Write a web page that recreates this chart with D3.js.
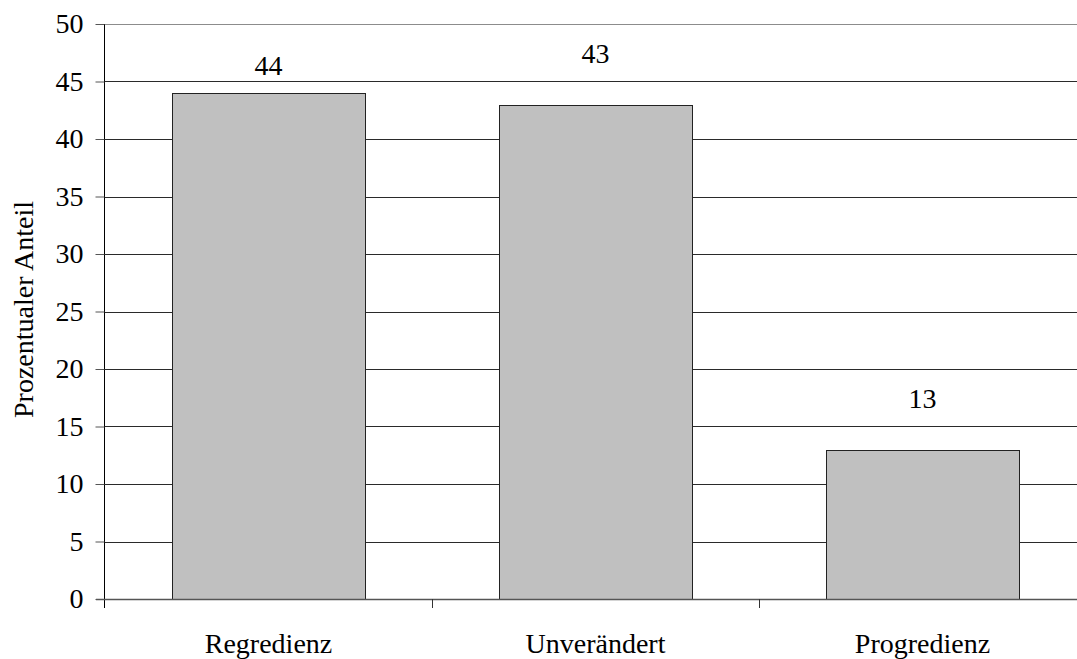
<!DOCTYPE html>
<html>
<head>
<meta charset="utf-8">
<script src="https://cdn.jsdelivr.net/npm/d3@7"></script>
<style>
  html, body { margin: 0; padding: 0; background: #fff; }
  svg { display: block; }
  text { font-family: "Liberation Serif", "Times New Roman", serif; fill: #000; }
</style>
</head>
<body>
<svg id="chart" width="1077" height="659"></svg>
<script>
// Share of cases per course category (percent)
const categories = ["Regredienz", "Unverändert", "Progredienz"];
const values = [44, 43, 13];
const yTicks = [0, 5, 10, 15, 20, 25, 30, 35, 40, 45, 50];
const yTitle = "Prozentualer Anteil";

const W = 1077, H = 659;
const plot = { left: 105, right: 1086, top: 24, bottom: 599 };

const svg = d3.select("#chart");

const x = d3.scaleBand()
  .domain(categories)
  .range([plot.left, plot.right])
  .paddingInner(0.41)
  .paddingOuter(0.205);

const y = d3.scaleLinear()
  .domain([0, 50])
  .range([plot.bottom, plot.top]);

const crisp = v => Math.round(v) + 0.5;

// horizontal gridlines
svg.append("g")
  .selectAll("line")
  .data(yTicks.filter(t => t > 0))
  .join("line")
  .attr("x1", plot.left)
  .attr("x2", plot.right)
  .attr("y1", d => crisp(y(d)))
  .attr("y2", d => crisp(y(d)))
  .attr("stroke", d => d === 50 ? "#8c8c8c" : "#2a2a2a")
  .attr("stroke-width", 1);

// bars
svg.append("g")
  .selectAll("rect")
  .data(values)
  .join("rect")
  .attr("x", (d, i) => crisp(x(categories[i])))
  .attr("y", d => crisp(y(d)))
  .attr("width", Math.round(x.bandwidth()))
  .attr("height", d => Math.round(y(0)) - Math.round(y(d)))
  .attr("fill", "#c0c0c0")
  .attr("stroke", "#222")
  .attr("stroke-width", 1);

// y axis
const yAxis = d3.axisLeft(y).tickValues(yTicks).tickSize(9).tickPadding(12);
const gy = svg.append("g")
  .attr("transform", `translate(${plot.left - 0.5},0)`)
  .call(yAxis);
gy.select(".domain").attr("stroke", "#000").attr("d", `M0,${plot.top}V${plot.bottom + 9}`);
gy.selectAll(".tick line").attr("stroke", "#555");
gy.selectAll(".tick text")
  .attr("font-family", "Liberation Serif, Times New Roman, serif")
  .attr("font-size", 28)
  .attr("fill", "#000");

// x axis baseline and category separators
const step = x.step();
svg.append("line")
  .attr("x1", plot.left - 9).attr("x2", plot.right)
  .attr("y1", plot.bottom + 0.5).attr("y2", plot.bottom + 0.5)
  .attr("stroke", "#555").attr("stroke-width", 1.6);
svg.append("g")
  .selectAll("line")
  .data(d3.range(1, categories.length + 1))
  .join("line")
  .attr("x1", i => crisp(plot.left + i * step))
  .attr("x2", i => crisp(plot.left + i * step))
  .attr("y1", plot.bottom)
  .attr("y2", plot.bottom + 9)
  .attr("stroke", "#333");

// category labels
svg.append("g")
  .selectAll("text")
  .data(categories)
  .join("text")
  .attr("x", d => x(d) + x.bandwidth() / 2)
  .attr("y", 653)
  .attr("text-anchor", "middle")
  .attr("font-size", 28)
  .text(d => d);

// value labels above bars; the tallest label sits lower, clear of the top gridline
const labelLift = v => v === d3.max(values) ? 18 : 42;
svg.append("g")
  .selectAll("text")
  .data(values)
  .join("text")
  .attr("x", (d, i) => x(categories[i]) + x.bandwidth() / 2)
  .attr("y", d => y(d) - labelLift(d))
  .attr("text-anchor", "middle")
  .attr("font-size", 28)
  .text(d => d);

// y axis title
svg.append("text")
  .attr("transform", `translate(33,${(plot.top + plot.bottom) / 2 - 2}) rotate(-90)`)
  .attr("text-anchor", "middle")
  .attr("font-size", 28)
  .text(yTitle);
</script>
</body>
</html>
